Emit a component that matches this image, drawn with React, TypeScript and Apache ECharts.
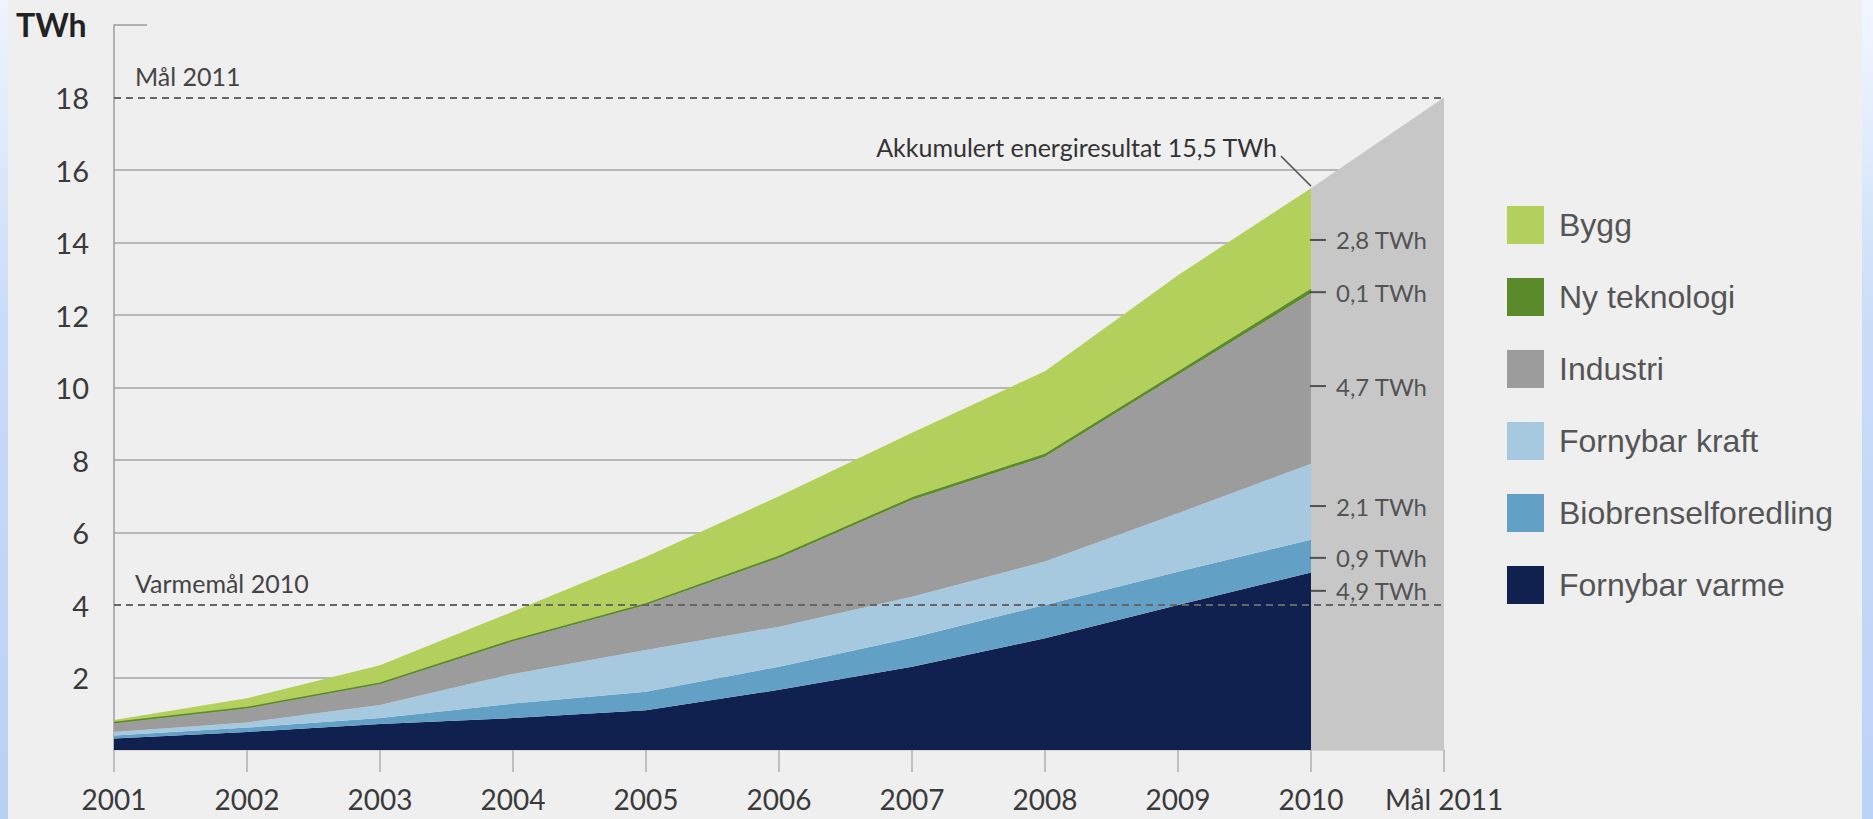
import React, { useEffect, useRef } from "react";
import * as echarts from "echarts";

// ---- data ----
const categories = ["2001", "2002", "2003", "2004", "2005", "2006", "2007", "2008", "2009", "2010", "Mål 2011"];
const fornybarVarme = [0.32, 0.5, 0.72, 0.88, 1.1, 1.66, 2.3, 3.08, 4.0, 4.9];
const biobrensel = [0.08, 0.12, 0.16, 0.4, 0.51, 0.64, 0.8, 0.92, 0.92, 0.9];
const fornybarKraft = [0.1, 0.14, 0.36, 0.82, 1.15, 1.1, 1.13, 1.2, 1.61, 2.1];
const industri = [0.24, 0.39, 0.58, 0.9, 1.24, 1.9, 2.67, 2.89, 3.82, 4.7];
const nyTeknologi = [0.02, 0.02, 0.02, 0.03, 0.03, 0.04, 0.05, 0.06, 0.07, 0.1];
const bygg = [0.07, 0.26, 0.5, 0.79, 1.3, 1.66, 1.8, 2.3, 2.68, 2.8];
const maal2011 = [15.5, 18]; // 2010 -> Mål 2011
const gridValues = [2, 6, 8, 10, 12, 14, 16];
const goalValues = [18, 4];
const goalLabels = ["Mål 2011", "Varmemål 2010"];
const annotLabels = ["2,8 TWh", "0,1 TWh", "4,7 TWh", "2,1 TWh", "0,9 TWh", "4,9 TWh"];
const annotValues = [14.07, 12.63, 10.04, 6.73, 5.3, 4.39];
const accumLabel = "Akkumulert energiresultat 15,5 TWh";
const legendOrder = ["Bygg", "Ny teknologi", "Industri", "Fornybar kraft", "Biobrenselforedling", "Fornybar varme"];

const FONT = "Lato, 'Open Sans', sans-serif";

export default function App() {
  const ref = useRef<HTMLDivElement>(null);

  useEffect(() => {
    const chart = echarts.init(ref.current!, null, { renderer: "svg" });
    const tail = (arr: number[]) => [...arr, "-"];
    const stackDefs = [
      { name: "Fornybar varme", data: fornybarVarme, color: "#11214f" },
      { name: "Biobrenselforedling", data: biobrensel, color: "#62a0c6" },
      { name: "Fornybar kraft", data: fornybarKraft, color: "#a6c9e0" },
      { name: "Industri", data: industri, color: "#9c9c9c" },
      { name: "Ny teknologi", data: nyTeknologi, color: "#5b8a2b" },
      { name: "Bygg", data: bygg, color: "#b4d05c" },
    ];
    const stackSeries = stackDefs.map((d) => ({
      name: d.name,
      type: "line",
      stack: "total",
      data: tail(d.data),
      symbol: "none",
      z: 2,
      itemStyle: { color: d.color },
      lineStyle: d.name === "Ny teknologi" ? { width: 1.5, color: d.color } : { width: 0 },
      areaStyle: { color: d.color, opacity: 1 },
    }));

    const target = new Array(categories.length - 2).fill("-").concat(maal2011);

    const option: any = {
      animation: false,
      backgroundColor: "#efefef",
      grid: { left: 114, right: 429, top: 25, bottom: 69 },
      legend: {
        orient: "vertical",
        left: 1502,
        top: 201,
        itemWidth: 37,
        itemHeight: 38,
        itemGap: 34,
        icon: "rect",
        selectedMode: false,
        data: legendOrder,
        itemStyle: { borderWidth: 0 },
        textStyle: { fontFamily: "'Liberation Sans', Arial, sans-serif", fontSize: 32, color: "#555", padding: [0, 0, 0, 10] },
      },
      xAxis: {
        type: "category",
        data: categories,
        boundaryGap: false,
        axisLine: { lineStyle: { color: "#cfcfcf", width: 1.5 } },
        axisTick: { show: true, length: 22, lineStyle: { color: "#b0b0b0", width: 1.5 } },
        axisLabel: { interval: 0, margin: 35, fontFamily: FONT, fontSize: 28, color: "#3a3a3a" },
      },
      yAxis: {
        type: "value",
        min: 0,
        max: 20,
        interval: 2,
        axisLine: { show: true, lineStyle: { color: "#9c9c9c", width: 1.5 } },
        axisTick: { show: false },
        splitLine: { show: false },
        axisLabel: {
          margin: 25,
          fontFamily: FONT,
          fontSize: 29,
          color: "#3a3a3a",
          formatter: (v: number) => (v === 0 || v === 20 ? "" : String(v)),
        },
      },
      series: [
        {
          name: "grid",
          type: "line",
          data: [],
          z: 1,
          markLine: {
            silent: true,
            z: 1,
            symbol: "none",
            label: { show: false },
            lineStyle: { color: "#a5a5a5", width: 1.5, type: "solid" },
            data: gridValues.map((v) => ({ yAxis: v })),
          },
        },
        ...stackSeries,
        {
          name: "target",
          type: "line",
          data: target,
          symbol: "none",
          z: 2,
          itemStyle: { color: "#c7c7c7" },
          lineStyle: { width: 0 },
          areaStyle: { color: "#c7c7c7", opacity: 1 },
          markLine: {
            silent: true,
            z: 6,
            symbol: "none",
            label: { show: false },
            lineStyle: { color: "#666", width: 2, type: [7, 5] },
            data: goalValues.map((v) => ({ yAxis: v })),
          },
        },
        {
          name: "annot",
          type: "scatter",
          z: 10,
          data: annotValues.map((v) => [9, v]),
          symbol: "rect",
          symbolSize: [16, 2],
          symbolOffset: [7, 0],
          itemStyle: { color: "#333" },
          label: {
            show: true,
            position: "right",
            distance: 10,
            formatter: (p: any) => annotLabels[p.dataIndex],
            fontFamily: FONT,
            fontSize: 24,
            color: "#333",
          },
        },
      ],
    };
    chart.setOption(option);

    const px = (x: number, y: number) => chart.convertToPixel({ gridIndex: 0 }, [x, y]) as number[];
    const top = px(0, 20);
    const p2010 = px(9, maal2011[0]);
    const goalPts = goalValues.map((v) => px(0, v));

    chart.setOption({
      graphic: [
        {
          type: "rect",
          shape: { x: 0, y: 0, width: 8, height: 819 },
          style: {
            fill: new echarts.graphic.LinearGradient(0, 0, 0, 1, [
              { offset: 0, color: "#eef4fd" },
              { offset: 0.4, color: "#c9dbf8" },
              { offset: 1, color: "#b9d0f5" },
            ]),
          },
          z: 100,
        },
        {
          type: "rect",
          shape: { x: 1862, y: 0, width: 11, height: 819 },
          style: {
            fill: new echarts.graphic.LinearGradient(0, 0, 0, 1, [
              { offset: 0, color: "#f2f7ff" },
              { offset: 0.4, color: "#cadcf8" },
              { offset: 1, color: "#bcd2f6" },
            ]),
          },
          z: 100,
        },
        {
          type: "text",
          x: 16,
          y: 8,
          style: { text: "TWh", font: `bold 32px ${FONT}`, fill: "#222" },
        },
        {
          type: "line",
          shape: { x1: top[0], y1: top[1], x2: top[0] + 33, y2: top[1] },
          style: { stroke: "#9c9c9c", lineWidth: 1.5 },
        },
        ...goalPts.map((p, i) => ({
          type: "text",
          x: p[0] + 21,
          y: p[1] - 22,
          style: {
            text: goalLabels[i],
            font: `25px ${FONT}`,
            fill: "#444",
            verticalAlign: "middle",
          },
          z: 20,
        })),
        {
          type: "line",
          shape: { x1: p2010[0], y1: p2010[1] - 2, x2: p2010[0] - 30, y2: p2010[1] - 32 },
          style: { stroke: "#555", lineWidth: 1.5 },
          z: 20,
        },
        {
          type: "text",
          x: p2010[0] - 34,
          y: p2010[1] - 41,
          style: {
            text: accumLabel,
            font: `25px ${FONT}`,
            fill: "#333",
            align: "right",
            verticalAlign: "middle",
          },
          z: 20,
        },
      ],
    });

    return () => chart.dispose();
  }, []);

  return <div ref={ref} style={{ position: "fixed", left: 0, top: 0, width: 1873, height: 819 }} />;
}
